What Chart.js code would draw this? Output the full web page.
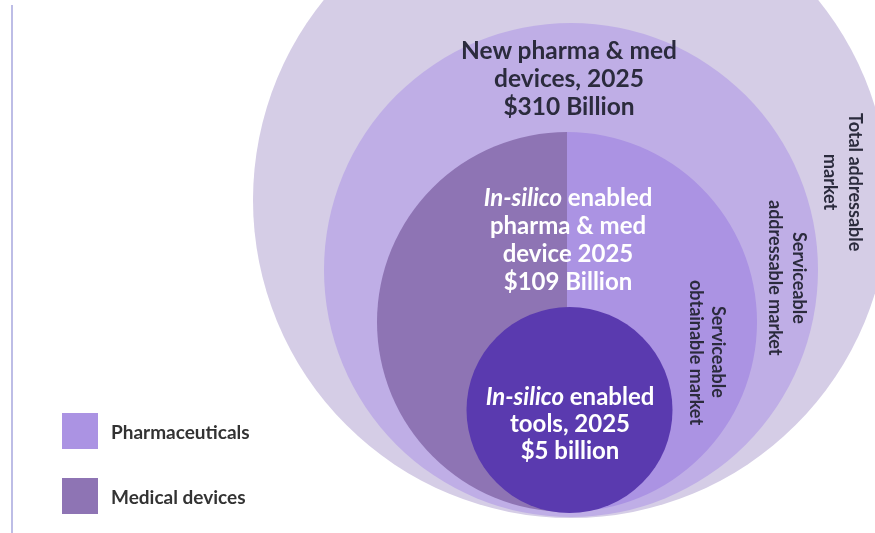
<!DOCTYPE html>
<html>
<head>
<meta charset="utf-8">
<script src="https://cdn.jsdelivr.net/npm/chart.js@4.4.1/dist/chart.umd.min.js"></script>
<style>
  html, body { margin: 0; padding: 0; background: #ffffff; }
  #stage { position: relative; width: 875px; height: 533px; overflow: hidden; font-family: Lato, "Open Sans", sans-serif; }
  canvas { position: absolute; }
  .lbl { position: absolute; font-weight: 700; text-align: center; white-space: nowrap; }
  .vlbl { position: absolute; writing-mode: vertical-rl; text-align: center; white-space: nowrap; font-weight: 700; color: #2b2b3d; }
  .leg { position: absolute; display: flex; align-items: center; font-weight: 700; font-size: 19px; color: #333333; }
  .leg span.sw { width: 36px; height: 36px; margin-right: 13px; display: inline-block; }
</style>
</head>
<body>
<div id="stage">
  <div id="leftRule" style="position:absolute;left:11px;top:5px;width:2px;height:528px;background:#bdbde6;"></div>
  <canvas id="outer" width="875" height="533" style="left:0;top:0;"></canvas>
  <canvas id="split" width="380" height="380"></canvas>
  <canvas id="inner" width="875" height="533" style="left:0;top:0;"></canvas>
</div>
<script>
// ---------- data ----------
const categories = ['Total addressable market', 'Serviceable addressable market', 'Serviceable obtainable market', 'In-silico enabled tools'];
const marketNames = ['', 'New pharma & med devices, 2025', 'In-silico enabled pharma & med device 2025', 'In-silico enabled tools, 2025'];
const marketValues = [null, '$310 Billion', '$109 Billion', '$5 billion'];
const segments = ['Pharmaceuticals', 'Medical devices'];
const segmentShares = [50, 50];

// ---------- styles / layout ----------
const ringColors = ['#d5cde6', '#bfaee6', '#ab93e3', '#5a3aaf'];
const segmentColors = ['#ab93e3', '#8e74b4'];
const layout = { cx: [571, 571, 567, 569.5], cy: [200, 270, 322, 410], r: [318, 247, 190, 103] };

function baseOpts() {
  return {
    responsive: false, animation: false, events: [],
    layout: { padding: 0, autoPadding: false },
    plugins: { legend: { display: false }, tooltip: { enabled: false } },
    scales: {
      x: { type: 'linear', min: 0, max: 875, display: false },
      y: { type: 'linear', min: 0, max: 533, reverse: true, display: false }
    }
  };
}
function ring(i) {
  return { label: categories[i], data: [{ x: layout.cx[i], y: layout.cy[i], r: layout.r[i] }],
           backgroundColor: ringColors[i], borderWidth: 0, hoverBorderWidth: 0, clip: false };
}

// first dataset is drawn on top
new Chart(document.getElementById('outer'), {
  type: 'bubble',
  data: { datasets: [ring(1), ring(0)] },
  options: baseOpts()
});

const sp = document.getElementById('split');
sp.style.left = (layout.cx[2] - layout.r[2]) + 'px';
sp.style.top = (layout.cy[2] - layout.r[2]) + 'px';
sp.width = sp.height = layout.r[2] * 2;
new Chart(sp, {
  type: 'pie',
  data: { labels: segments, datasets: [{ data: segmentShares, backgroundColor: segmentColors, borderWidth: 0 }] },
  options: { responsive: false, animation: false, events: [], layout: { padding: 0 },
             plugins: { legend: { display: false }, tooltip: { enabled: false } } }
});

new Chart(document.getElementById('inner'), {
  type: 'bubble',
  data: { datasets: [ring(3)] },
  options: baseOpts()
});

// ---------- text ----------
const stage = document.getElementById('stage');
function addDiv(cls, html, css) {
  const d = document.createElement('div');
  d.className = cls; d.innerHTML = html; Object.assign(d.style, css); stage.appendChild(d); return d;
}
function italicize(s) { return s.replace('In-silico', '<i>In-silico</i>'); }
// SAM label
addDiv('lbl', 'New pharma &amp; med<br>devices, 2025<br>' + marketValues[1],
  { left: '369px', width: '400px', top: '36px', fontSize: '24.5px', lineHeight: '28px', color: '#2b2b3d' });
// SOM label
addDiv('lbl', italicize('In-silico enabled') + '<br>pharma &amp; med<br>device 2025<br>' + marketValues[2],
  { left: '368px', width: '400px', top: '183px', fontSize: '24px', lineHeight: '28px', color: '#ffffff' });
// tools label
addDiv('lbl', italicize('In-silico enabled') + '<br>tools, 2025<br>' + marketValues[3],
  { left: '370px', width: '400px', top: '382px', fontSize: '24px', lineHeight: '27px', color: '#ffffff' });

// vertical ring labels
function vlabel(lines, cxRight, cy, lh) {
  const d = addDiv('vlbl', lines.join('<br>'), { fontSize: '18px', lineHeight: lh + 'px' });
  const w = d.offsetWidth, h = d.offsetHeight;
  d.style.left = (cxRight + lh / 2 - w) + 'px';
  d.style.top = (cy - h / 2) + 'px';
}
vlabel(['Total addressable', 'market'], 855, 182, 25);
vlabel(['Serviceable', 'addressable market'], 800, 278, 24);
vlabel(['Serviceable', 'obtainable market'], 719, 352, 22);

// legend
segments.forEach((s, i) => {
  addDiv('leg', '<span class="sw" style="background:' + segmentColors[i] + '"></span>' + s,
    { left: '62px', top: (413 + i * 65) + 'px', height: '36px' });
});
</script>
</body>
</html>
